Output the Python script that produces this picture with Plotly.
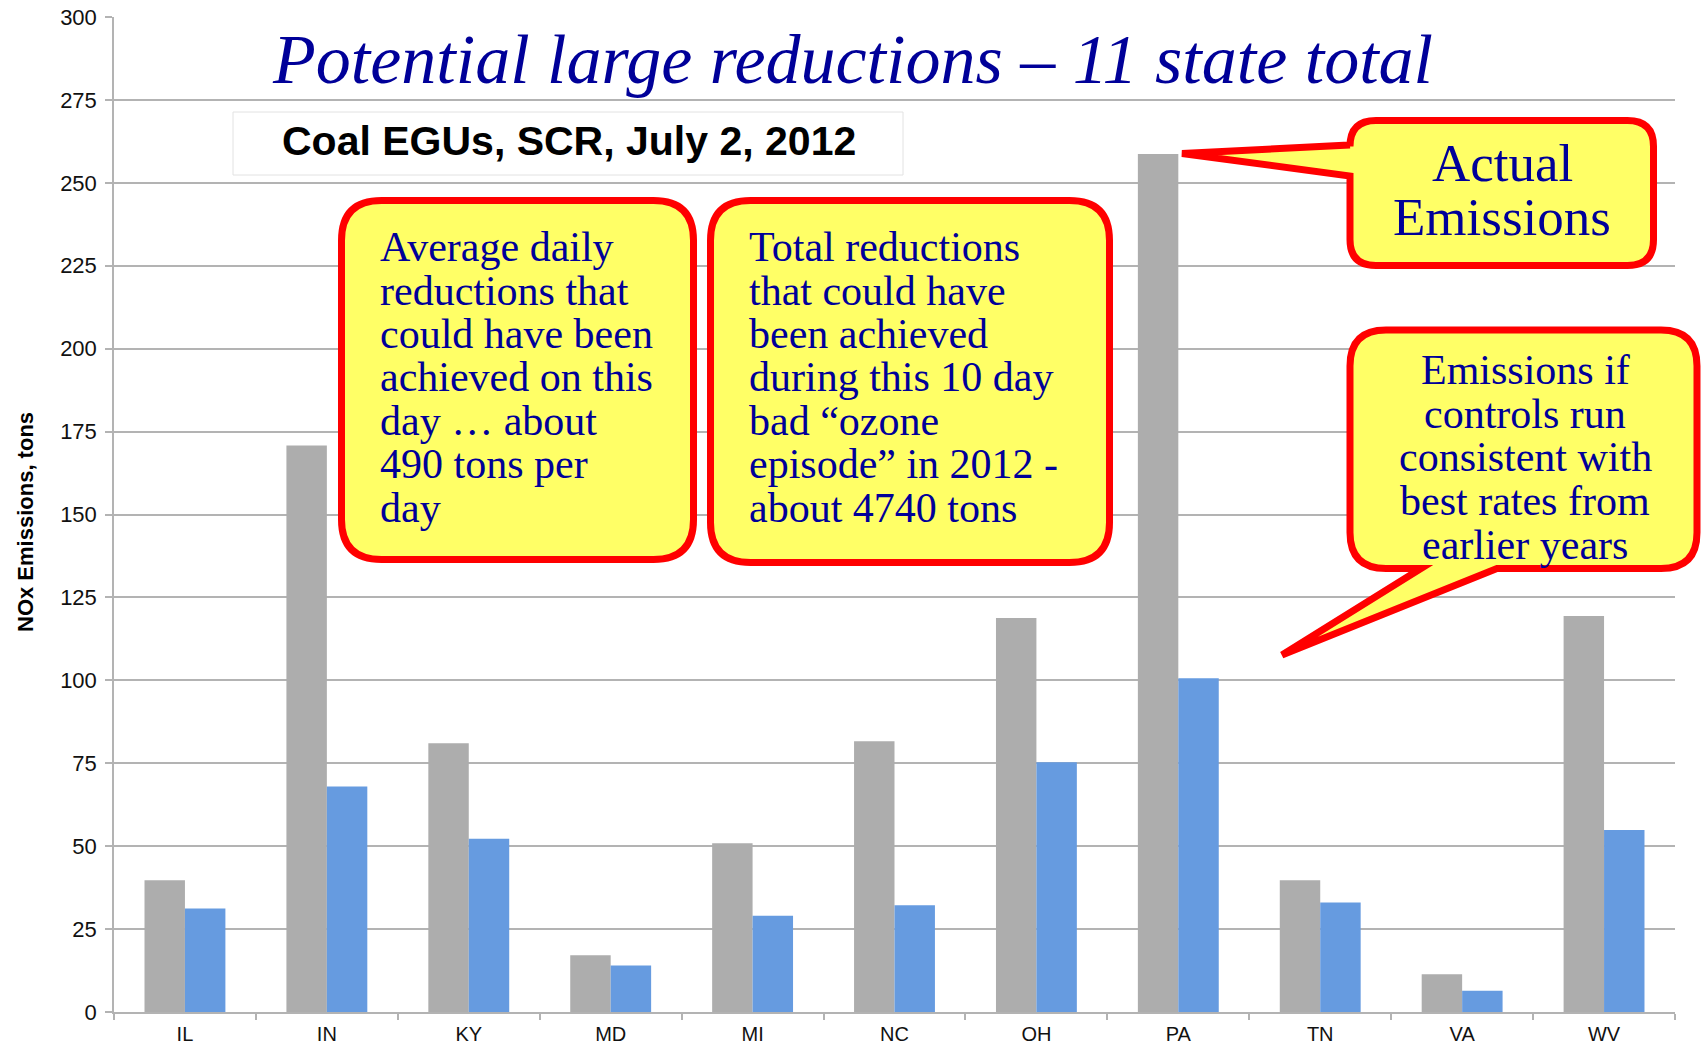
import plotly.graph_objects as go

# ---------------- data ----------------
states = ["IL", "IN", "KY", "MD", "MI", "NC", "OH", "PA", "TN", "VA", "WV"]
actual = [39.7, 170.8, 81.0, 17.1, 50.9, 81.6, 118.8, 258.7, 39.7, 11.4, 119.4]
best_rates = [31.2, 68.0, 52.2, 14.0, 29.0, 32.2, 75.3, 100.6, 33.0, 6.4, 54.9]
y_ticks = [0, 25, 50, 75, 100, 125, 150, 175, 200, 225, 250, 275, 300]

title_text = "Potential large reductions \u2013 11 state total"
subtitle_text = "Coal EGUs, SCR, July 2, 2012"
y_title = "NOx Emissions, tons"
callout1 = ["Average daily", "reductions that", "could have been",
            "achieved on this", "day \u2026 about", "490 tons per", "day"]
callout2 = ["Total reductions", "that could have", "been achieved",
            "during this 10 day", "bad \u201cozone", "episode\u201d in 2012 -",
            "about 4740 tons"]
callout3 = ["Actual", "Emissions"]
callout4 = ["Emissions if", "controls run", "consistent with",
            "best rates from", "earlier years"]

# ---------------- layout geometry (pixels) ----------------
W, H = 1702, 1047
L, R, T, B = 114, 1675, 17, 1012

def fx(X):
    return (X - L) / (R - L)

def fy(Y):
    return (B - Y) / (B - T)

def P(X, Y):
    return f"{fx(X):.5f},{fy(Y):.5f}"

def callout_path(x0, y0, x1, y1, r, bottom_ptr=None, left_ptr=None):
    d = f"M {P(x0 + r, y0)} L {P(x1 - r, y0)} Q {P(x1, y0)} {P(x1, y0 + r)} "
    d += f"L {P(x1, y1 - r)} Q {P(x1, y1)} {P(x1 - r, y1)} "
    if bottom_ptr:
        bx1, bx2, tx, ty = bottom_ptr
        d += f"L {P(bx2, y1)} L {P(tx, ty)} L {P(bx1, y1)} "
    d += f"L {P(x0 + r, y1)} Q {P(x0, y1)} {P(x0, y1 - r)} "
    if left_ptr:
        ly1, ly2, tx, ty = left_ptr
        d += f"L {P(x0, ly2)} L {P(tx, ty)} L {P(x0, ly1)} "
    d += f"L {P(x0, y0 + r)} Q {P(x0, y0)} {P(x0 + r, y0)} Z"
    return d

GRAY = "#ADADAD"
BLUE = "#669BE0"
NAVY = "#000099"
YELLOW = "#FFFF66"
RED = "#FF0000"
GRID = "#B3B3B3"
SERIF = "Liberation Serif, Times New Roman, serif"
SANS = "Liberation Sans, Arial, sans-serif"

fig = go.Figure()
fig.add_trace(go.Bar(x=states, y=actual, marker=dict(color=GRAY, line=dict(width=0)),
                     name="Actual Emissions", showlegend=False))
fig.add_trace(go.Bar(x=states, y=best_rates, marker=dict(color=BLUE, line=dict(width=0)),
                     name="Best rates", showlegend=False))

shapes = []
# subtitle box
shapes.append(dict(type="rect", xref="paper", yref="paper",
                   x0=fx(233), x1=fx(903), y0=fy(175), y1=fy(112),
                   line=dict(color="#E2E2E2", width=1), fillcolor="white", layer="above"))
# callouts
for d in [
    callout_path(341.5, 200.5, 693.5, 559.5, 40),
    callout_path(710.5, 200.5, 1109.5, 562.5, 40),
    callout_path(1350, 120.5, 1653.5, 265.5, 26, left_ptr=(145, 176, 1182, 153.5)),
    callout_path(1350, 330, 1697, 568.5, 36, bottom_ptr=(1421, 1497, 1282, 655)),
]:
    shapes.append(dict(type="path", xref="paper", yref="paper", path=d,
                       fillcolor=YELLOW, line=dict(color=RED, width=7), layer="above"))

annotations = []

def add_text(text, X, Ybase, size, family, color, xanchor="left", italic=False, bold=False):
    cy = Ybase - 0.33 * size
    t = text
    if bold:
        t = f"<b>{t}</b>"
    if italic:
        t = f"<i>{t}</i>"
    annotations.append(dict(text=t, xref="paper", yref="paper", x=fx(X), y=fy(cy),
                            xanchor=xanchor, yanchor="middle", showarrow=False,
                            borderpad=0,
                            font=dict(family=family, size=size, color=color)))

add_text(title_text, 852, 83, 70, SERIF, NAVY, xanchor="center", italic=True)
add_text(subtitle_text, 568.5, 155, 41, SANS, "#000000", xanchor="center", bold=True)

for i, line in enumerate(callout1):
    add_text(line, 379, 261 + 43.4 * i, 42, SERIF, NAVY)
for i, line in enumerate(callout2):
    add_text(line, 748, 261 + 43.4 * i, 42, SERIF, NAVY)
for i, line in enumerate(callout3):
    add_text(line, 1502, 180.6 + 53.6 * i, 53, SERIF, NAVY, xanchor="center")
for i, line in enumerate(callout4):
    add_text(line, 1525, 384 + 43.6 * i, 42, SERIF, NAVY, xanchor="center")

# y axis title
annotations.append(dict(text=f"<b>{y_title}</b>", xref="paper", yref="paper",
                        x=fx(25), y=fy(522), xanchor="center", yanchor="middle",
                        textangle=-90, showarrow=False, borderpad=0,
                        font=dict(family=SANS, size=22, color="#000000")))

fig.update_layout(
    width=W, height=H,
    margin=dict(l=L, r=W - R, t=T, b=H - B, pad=0, autoexpand=False),
    paper_bgcolor="white", plot_bgcolor="white",
    barmode="group", bargap=0.43, bargroupgap=0,
    showlegend=False,
    shapes=shapes, annotations=annotations,
    xaxis=dict(type="category", automargin=False, showline=True, linecolor=GRID,
               linewidth=1.5, ticks="outside", tickson="boundaries", ticklen=6,
               tickcolor=GRID, tickwidth=1.5, showgrid=False,
               tickfont=dict(family=SANS, size=20, color="#111111"),
               ticklabelstandoff=3),
    yaxis=dict(range=[0, 300], tickvals=y_ticks, automargin=False, showgrid=True,
               gridcolor=GRID, gridwidth=1.5, showline=True, linecolor=GRID,
               linewidth=1.5, ticks="outside", ticklen=7, tickcolor=GRID,
               tickwidth=1.5, zeroline=False,
               tickfont=dict(family=SANS, size=22, color="#111111"),
               ticklabelstandoff=4),
)

fig.write_html("out.html", config={"displayModeBar": False},
               post_script="document.body.style.margin='0px';document.body.style.overflow='hidden';")
